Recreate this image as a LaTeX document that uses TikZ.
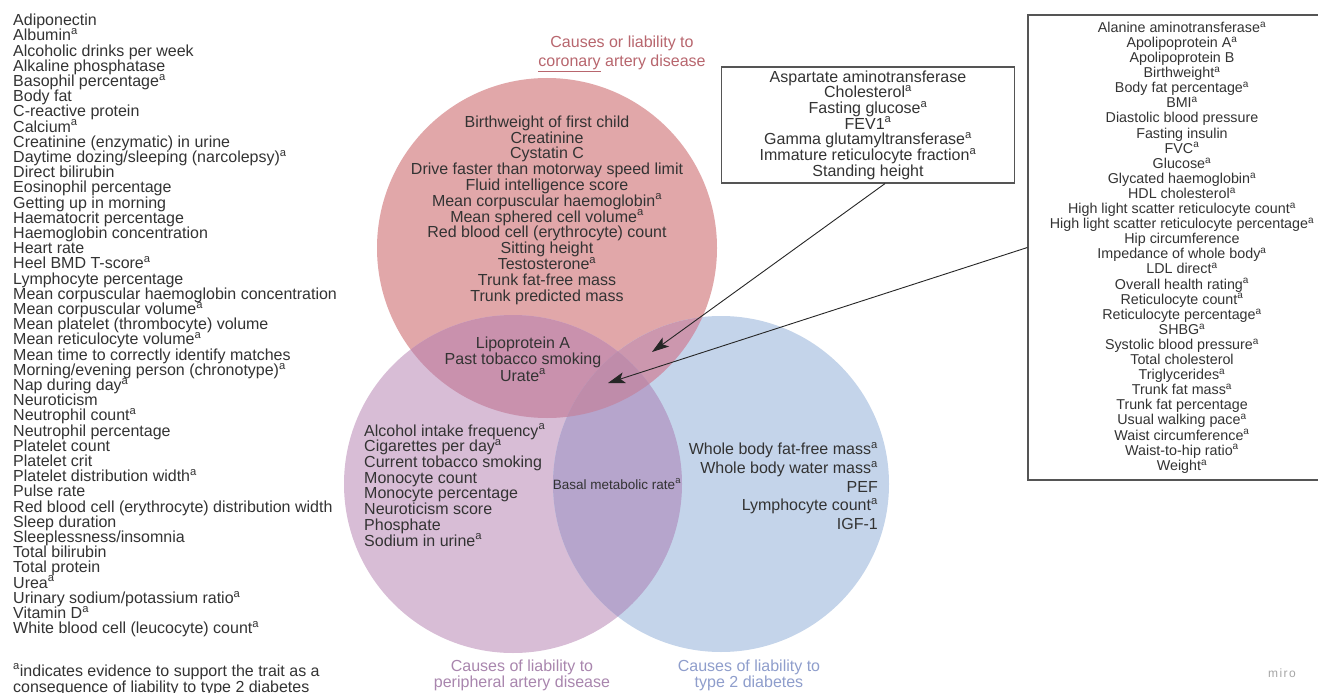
\documentclass[tikz,border=0pt]{standalone}
\usepackage{fontspec}
\setmainfont{Liberation Sans}
\usetikzlibrary{arrows.meta}
\lineskiplimit=-100pt
\newcommand{\supa}{\textsuperscript{a}}
\definecolor{txt}{HTML}{333333}
\definecolor{cRed}{HTML}{E1A7A9}
\definecolor{cPur}{HTML}{D8BDD6}
\definecolor{cBlu}{HTML}{C4D4EA}
\definecolor{cRP}{HTML}{C991AD}
\definecolor{cRB}{HTML}{CC97AE}
\definecolor{cPB}{HTML}{B6A5CC}
\definecolor{cRPB}{HTML}{BF8CAA}
\definecolor{labRed}{HTML}{B8666E}
\definecolor{labPur}{HTML}{A986AE}
\definecolor{labBlu}{HTML}{8F9ECC}
\definecolor{boxline}{HTML}{555555}
\begin{document}
\begin{tikzpicture}[x=1pt,y=-1pt,
  litem/.style={anchor=west,inner sep=0pt,text=txt,font=\fontsize{16}{16}\selectfont,text height=11.5pt,text depth=3.5pt},
  ctext/.style={align=center,inner sep=0pt,text=txt,font=\fontsize{16}{15.8}\selectfont},
  listbox/.style={draw=boxline,line width=1.2pt,fill=white,inner sep=0pt,align=center,text=txt},
  lab/.style={align=center,inner sep=0pt,font=\fontsize{16}{16}\selectfont},
  arr/.style={draw=black!85,line width=0.9pt,-{Stealth[length=17pt,width=11pt,inset=4pt]}}
]
\useasboundingbox (0,0) rectangle (1318,693);
\fill[white] (0,0) rectangle (1318,693);

% circle centres
\coordinate (cR) at (547,248);
\coordinate (cP) at (513,484);
\coordinate (cB) at (721,484);

\fill[cRed] (cR) circle[radius=170pt];
\fill[cPur] (cP) circle[radius=169pt];
\fill[cBlu] (cB) circle[radius=168pt];
\begin{scope}
  \clip (cR) circle[radius=170pt];
  \fill[cRP] (cP) circle[radius=169pt];
\end{scope}
\begin{scope}
  \clip (cR) circle[radius=170pt];
  \fill[cRB] (cB) circle[radius=168pt];
\end{scope}
\begin{scope}
  \clip (cP) circle[radius=169pt];
  \fill[cPB] (cB) circle[radius=168pt];
\end{scope}
\begin{scope}
  \clip (cR) circle[radius=170pt];
  \clip (cP) circle[radius=169pt];
  \fill[cRPB] (cB) circle[radius=168pt];
\end{scope}

% left list
\foreach \t [count=\i from 0] in {Adiponectin,Albumin\supa,Alcoholic drinks per week,Alkaline phosphatase,Basophil percentage\supa,Body fat,C-reactive protein,Calcium\supa,Creatinine (enzymatic) in urine,Daytime dozing/sleeping (narcolepsy)\supa,Direct bilirubin,Eosinophil percentage,Getting up in morning,Haematocrit percentage,Haemoglobin concentration,Heart rate,Heel BMD T-score\supa,Lymphocyte percentage,Mean corpuscular haemoglobin concentration,Mean corpuscular volume\supa,Mean platelet (thrombocyte) volume,Mean reticulocyte volume\supa,Mean time to correctly identify matches,Morning/evening person (chronotype)\supa,Nap during day\supa,Neuroticism,Neutrophil count\supa,Neutrophil percentage,Platelet count,Platelet crit,Platelet distribution width\supa,Pulse rate,Red blood cell (erythrocyte) distribution width,Sleep duration,Sleeplessness/insomnia,Total bilirubin,Total protein,Urea\supa,Urinary sodium/potassium ratio\supa,Vitamin D\supa,White blood cell (leucocyte) count\supa}
  \node[litem] (L\i) at (13,{21.7+15.2*\i}) {\t};

\node[litem] (fn1) at (13,672) {\supa indicates evidence to support the trait as a};
\node[litem] (fn2) at (13,688) {consequence of liability to type 2 diabetes};

% circle texts
\node[ctext] (redtxt) at (547,210) {Birthweight of first child\\Creatinine\\Cystatin C\\Drive faster than motorway speed limit\\Fluid intelligence score\\Mean corpuscular haemoglobin\supa\\Mean sphered cell volume\supa\\Red blood cell (erythrocyte) count\\Sitting height\\Testosterone\supa\\Trunk fat-free mass\\Trunk predicted mass};

\node[ctext,font=\fontsize{16}{16.5}\selectfont] (rptxt) at (523,359) {Lipoprotein A\\Past tobacco smoking\\Urate\supa};

\node[ctext,align=left,anchor=west,font=\fontsize{16}{15.7}\selectfont] (purtxt) at (364,485) {Alcohol intake frequency\supa\\Cigarettes per day\supa\\Current tobacco smoking\\Monocyte count\\Monocyte percentage\\Neuroticism score\\Phosphate\\Sodium in urine\supa};

\node[ctext,font=\fontsize{13.5}{13.5}\selectfont] (pbtxt) at (617,484) {Basal metabolic rate\supa};

\node[ctext,align=right,anchor=east,font=\fontsize{16}{18.75}\selectfont] (blutxt) at (878,486) {Whole body fat-free mass\supa\\Whole body water mass\supa\\PEF\\Lymphocyte count\supa\\IGF-1};

% boxes
\node[listbox,minimum width=293pt,minimum height=116pt,font=\fontsize{16}{15.7}\selectfont] (mb) at (868,125) {Aspartate aminotransferase\\Cholesterol\supa\\Fasting glucose\supa\\FEV1\supa\\Gamma glutamyltransferase\supa\\Immature reticulocyte fraction\supa\\Standing height};

\node[listbox,minimum width=308pt,minimum height=465pt,font=\fontsize{14.3}{15.1}\selectfont] (rb) at (1182,247.5) {Alanine aminotransferase\supa\\Apolipoprotein A\supa\\Apolipoprotein B\\Birthweight\supa\\Body fat percentage\supa\\BMI\supa\\Diastolic blood pressure\\Fasting insulin\\FVC\supa\\Glucose\supa\\Glycated haemoglobin\supa\\HDL cholesterol\supa\\High light scatter reticulocyte count\supa\\High light scatter reticulocyte percentage\supa\\Hip circumference\\Impedance of whole body\supa\\LDL direct\supa\\Overall health rating\supa\\Reticulocyte count\supa\\Reticulocyte percentage\supa\\SHBG\supa\\Systolic blood pressure\supa\\Total cholesterol\\Triglycerides\supa\\Trunk fat mass\supa\\Trunk fat percentage\\Usual walking pace\supa\\Waist circumference\supa\\Waist-to-hip ratio\supa\\Weight\supa};

% arrows
\coordinate (a1e) at (652,352);
\coordinate (a2e) at (608,383);
\draw[arr] ([xshift=17pt]mb.south) -- (a1e);
\draw[arr] (rb.west) -- (a2e);

% labels
\node[lab,text=labRed,font=\fontsize{16}{19}\selectfont] (labR) at (622,54) {Causes or liability to\\\underline{coronary} artery disease};
\node[lab,text=labPur] (labP) at (522,675) {Causes of liability to\\peripheral artery disease};
\node[lab,text=labBlu] (labB) at (749,675) {Causes of liability to\\type 2 diabetes};

\node[inner sep=0pt,text=black!35,font=\fontsize{12}{12}\selectfont\addfontfeature{LetterSpace=12}] (miro) at (1282,673) {miro};
\end{tikzpicture}
\end{document}
